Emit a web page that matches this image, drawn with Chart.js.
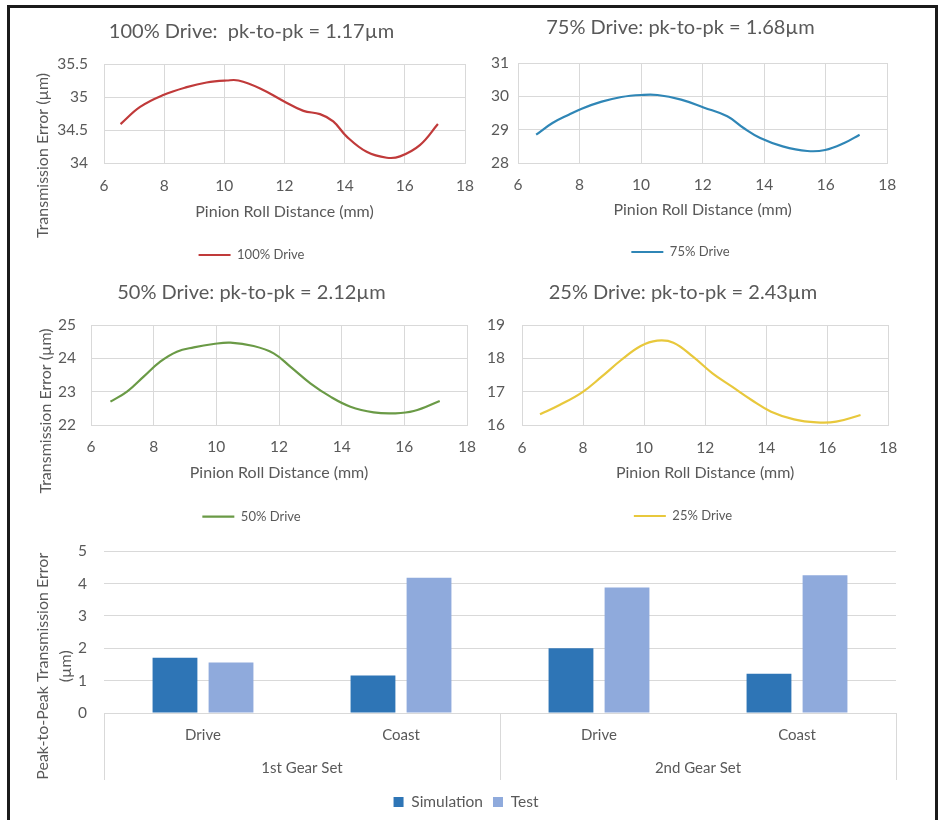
<!DOCTYPE html>
<html><head><meta charset="utf-8">
<script src="https://cdn.jsdelivr.net/npm/chart.js@4/dist/chart.umd.min.js"></script>
<style>
html,body{margin:0;padding:0;background:#fff;}
body{width:943px;height:820px;position:relative;overflow:hidden;}
#frame{position:absolute;left:7px;top:5px;width:925px;height:840px;border:3px solid #1b1b1b;border-bottom:none;}
canvas{position:absolute;}
</style></head><body>
<div id="frame"></div>
<canvas id="c1" width="483" height="272" style="left:10px;top:0px"></canvas>
<canvas id="c2" width="457" height="269" style="left:452px;top:0px"></canvas>
<canvas id="c3" width="483" height="264" style="left:10px;top:270px"></canvas>
<canvas id="c4" width="456" height="263" style="left:455px;top:270px"></canvas>
<canvas id="c5" width="912" height="295" style="left:10px;top:525px"></canvas>
<script>
// ---- data ----
const x100 = [6.55, 7.2, 7.97, 8.75, 9.41, 10.08, 10.47, 11.19, 11.96, 12.63, 13.18, 13.62, 14.07, 14.73, 15.4, 15.84, 16.5, 17.1];
const y100 = [34.59, 34.85, 35.03, 35.15, 35.22, 35.25, 35.25, 35.13, 34.94, 34.79, 34.74, 34.63, 34.40, 34.17, 34.08, 34.10, 34.27, 34.59];
const x75 = [6.59, 7.12, 7.65, 8.07, 8.72, 9.36, 10.0, 10.53, 11.3, 12.05, 12.8, 13.33, 13.87, 14.6, 15.4, 15.98, 16.6, 17.1];
const y75 = [28.85, 29.2, 29.45, 29.63, 29.84, 29.98, 30.04, 30.04, 29.9, 29.66, 29.4, 29.05, 28.75, 28.5, 28.36, 28.39, 28.6, 28.85];
const x50 = [6.62, 7.15, 7.68, 8.21, 8.74, 9.28, 9.91, 10.45, 11.19, 11.83, 12.36, 13.0, 13.64, 14.28, 15.02, 15.66, 16.3, 17.13];
const y50 = [22.7, 23.0, 23.45, 23.9, 24.2, 24.33, 24.43, 24.47, 24.37, 24.15, 23.75, 23.25, 22.85, 22.55, 22.38, 22.35, 22.42, 22.72];
const x25 = [6.59, 7.23, 7.97, 8.61, 9.25, 9.89, 10.43, 10.96, 11.6, 12.24, 12.88, 13.52, 14.16, 14.91, 15.65, 16.29, 17.09];
const y25 = [16.32, 16.6, 16.98, 17.45, 17.95, 18.37, 18.53, 18.47, 18.05, 17.55, 17.15, 16.75, 16.4, 16.17, 16.08, 16.1, 16.3];
const xTicks = [6, 8, 10, 12, 14, 16, 18];
const barCategories = ['Drive', 'Coast', 'Drive', 'Coast'];
const gearSets = ['1st Gear Set', '2nd Gear Set'];
const simulation = [1.71, 1.16, 2.0, 1.21];
const test = [1.56, 4.18, 3.88, 4.26];

// ---- styling ----
const FONT = 'Lato, "Open Sans", sans-serif';
const GRID = '#D9D9D9';
const TXT = '#595959';
const SP = '\u2003';

function lineChart(id, c) {
  return new Chart(document.getElementById(id), {
    type: 'line',
    data: { datasets: [{
      label: c.label,
      data: c.xs.map((x, i) => ({ x: x, y: c.ys[i] })),
      borderColor: c.color, backgroundColor: c.color,
      borderWidth: 2.2, pointRadius: 0, tension: 0.4, fill: false
    }]},
    options: {
      responsive: false, animation: false, devicePixelRatio: 1,
      layout: { padding: { left: c.pad, right: c.pad, top: 0, bottom: c.padBottom } },
      plugins: {
        title: { display: true, text: c.title, color: TXT,
          font: { family: FONT, size: 20, weight: 'normal' },
          padding: { top: c.tPadTop, bottom: c.tPadBottom } },
        legend: { position: 'bottom', labels: { color: TXT, font: { family: FONT, size: 13 },
          boxWidth: 32, boxHeight: 0, padding: 10 } },
        tooltip: { enabled: false }
      },
      scales: {
        x: { type: 'linear', min: xTicks[0], max: xTicks[xTicks.length - 1],
          afterBuildTicks: s => { s.ticks = xTicks.map(v => ({ value: v })); },
          ticks: { color: TXT, font: { family: FONT, size: 15.5 }, padding: c.xTickPad },
          grid: { color: GRID, drawTicks: false }, border: { color: GRID },
          title: { display: true, text: 'Pinion Roll Distance (mm)', color: TXT,
            font: { family: FONT, size: 16 }, padding: { top: 0, bottom: c.xTitlePad } },
          afterFit: s => { s.height = c.xHeight; } },
        y: { min: c.yMin, max: c.yMax,
          ticks: { stepSize: c.yStep, color: TXT, font: { family: FONT, size: 15.5 }, padding: c.yTickPad,
            callback: v => String(v) },
          grid: { color: GRID, drawTicks: false }, border: { color: GRID },
          title: c.yTitle ? { display: true, text: c.yTitle, color: TXT,
            font: { family: FONT, size: 16 }, padding: { top: c.yTitlePad, bottom: 0 } } : { display: false },
          afterFit: s => { s.width = c.yWidth; } }
      }
    }
  });
}

lineChart('c1', { label: '100% Drive', xs: x100, ys: y100, color: '#C03A3A',
  title: '100% Drive:  pk-to-pk = 1.17\u00b5m', yMin: 34, yMax: 35.5, yStep: 0.5,
  yTitle: 'Transmission Error (\u00b5m)' + SP.repeat(7), yTitlePad: -4.6,
  pad: 28, padBottom: 0.5, tPadTop: 19.5, tPadBottom: 20.5,
  xTickPad: 13.7, xHeight: 75.5, xTitlePad: 16.9, yWidth: 66, yTickPad: 16 });

lineChart('c2', { label: '75% Drive', xs: x75, ys: y75, color: '#2F86B6',
  title: '75% Drive: pk-to-pk = 1.68\u00b5m', yMin: 28, yMax: 31, yStep: 1,
  yTitle: null,
  pad: 16, padBottom: 0.5, tPadTop: 16, tPadBottom: 23,
  xTickPad: 12.7, xHeight: 72.5, xTitlePad: 15.9, yWidth: 50, yTickPad: 9 });

lineChart('c3', { label: '50% Drive', xs: x50, ys: y50, color: '#6A9A46',
  title: '50% Drive: pk-to-pk = 2.12\u00b5m', yMin: 22, yMax: 25, yStep: 1,
  yTitle: 'Transmission Error (\u00b5m)' + SP.repeat(6), yTitlePad: 0.4,
  pad: 26, padBottom: 0.8, tPadTop: 11, tPadBottom: 20,
  xTickPad: 12.7, xHeight: 75.2, xTitlePad: 17.3, yWidth: 55, yTickPad: 15 });

lineChart('c4', { label: '25% Drive', xs: x25, ys: y25, color: '#E8C83C',
  title: '25% Drive: pk-to-pk = 2.43\u00b5m', yMin: 16, yMax: 19, yStep: 1,
  yTitle: null,
  pad: 14, padBottom: 0.5, tPadTop: 11, tPadBottom: 20,
  xTickPad: 13.7, xHeight: 74.5, xTitlePad: 16.9, yWidth: 53, yTickPad: 17 });

new Chart(document.getElementById('c5'), {
  type: 'bar',
  data: { labels: barCategories, datasets: [
    { label: 'Simulation', data: simulation, backgroundColor: '#2E75B6', xAxisID: 'x',
      categoryPercentage: 0.566, barPercentage: 0.8 },
    { label: 'Test', data: test, backgroundColor: '#8FAADC', xAxisID: 'x',
      categoryPercentage: 0.566, barPercentage: 0.8 }
  ]},
  options: {
    responsive: false, animation: false, devicePixelRatio: 1,
    layout: { padding: { left: 26, right: 26, top: 21, bottom: 0.25 } },
    plugins: {
      legend: { position: 'bottom', labels: { color: TXT, font: { family: FONT, size: 15.5 },
        boxWidth: 10, boxHeight: 10, padding: 10 } },
      tooltip: { enabled: false }
    },
    scales: {
      x: { type: 'category', offset: true, weight: 0,
        ticks: { color: TXT, font: { family: FONT, size: 15 }, padding: -53.6 },
        grid: { offset: true, drawOnChartArea: false, drawTicks: true, tickLength: 67,
          color: ctx => (ctx.type !== 'tick' || ctx.index % 2 === 0) ? GRID : 'rgba(0,0,0,0)' },
        border: { color: GRID },
        afterFit: s => { s.height = 31; } },
      x2: { type: 'category', labels: gearSets, position: 'bottom', offset: true, weight: 1,
        ticks: { color: TXT, font: { family: FONT, size: 15 }, padding: 15 },
        grid: { display: false, drawTicks: false }, border: { display: false },
        afterFit: s => { s.height = 40.25; } },
      y: { min: 0, max: 5,
        ticks: { stepSize: 1, color: TXT, font: { family: FONT, size: 15.5 }, padding: 17 },
        grid: { color: GRID, drawTicks: false }, border: { display: false },
        title: { display: true, color: TXT, font: { family: FONT, size: 16, lineHeight: 1.4 },
          text: ['Peak-to-Peak Transmission Error' + SP.repeat(5) + '  ', '(\u00b5m)' + SP.repeat(5) + '  '],
          padding: { top: -4.2, bottom: 0 } },
        afterFit: s => { s.width = 68; } }
    }
  }
});
</script>
</body></html>
